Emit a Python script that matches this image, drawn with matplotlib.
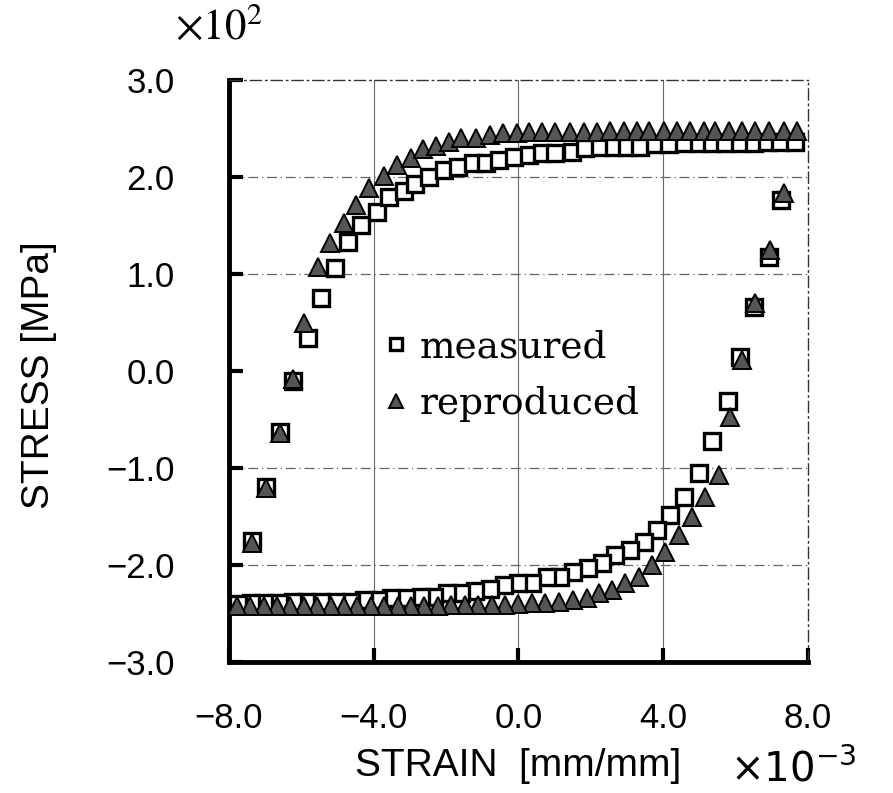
import matplotlib
matplotlib.use("Agg")
import matplotlib.pyplot as plt
from matplotlib.ticker import FixedLocator

# ---------------- data (strain x1e-3, stress x1e2) ----------------
meas_up_x = [-7.37, -6.98, -6.59, -6.23, -5.82, -5.46, -5.07, -4.71, -4.35, -3.91,
             -3.57, -3.16, -2.85, -2.47, -2.05, -1.66, -1.27, -0.89, -0.53, -0.11,
             0.28, 0.64, 1.00, 1.47, 1.83, 2.24, 2.63, 2.99, 3.35, 3.77,
             4.15, 4.57, 4.99, 5.35, 5.71, 6.12, 6.51, 6.87, 7.23, 7.65]
meas_up_y = [-1.75, -1.20, -0.63, -0.10, 0.34, 0.75, 1.06, 1.33, 1.51, 1.64,
             1.79, 1.86, 1.93, 2.00, 2.07, 2.10, 2.14, 2.14, 2.18, 2.21,
             2.23, 2.25, 2.25, 2.26, 2.30, 2.31, 2.31, 2.31, 2.31, 2.34,
             2.34, 2.35, 2.35, 2.35, 2.35, 2.35, 2.35, 2.36, 2.36, 2.36]

meas_lo_x = [7.26, 6.93, 6.51, 6.12, 5.79, 5.35, 4.99, 4.57, 4.18, 3.82,
             3.46, 3.07, 2.66, 2.30, 1.91, 1.52, 1.14, 0.78, 0.36, 0.00,
             -0.39, -0.80, -1.19, -1.58, -1.97, -2.33, -2.69, -3.10, -3.52, -3.88,
             -4.27, -4.63, -5.04, -5.46, -5.87, -6.23, -6.62, -7.04, -7.40, -7.76]
meas_lo_y = [1.76, 1.18, 0.66, 0.14, -0.31, -0.72, -1.05, -1.30, -1.48, -1.64,
             -1.76, -1.85, -1.90, -1.98, -2.03, -2.07, -2.12, -2.12, -2.19, -2.19,
             -2.21, -2.25, -2.27, -2.29, -2.29, -2.33, -2.33, -2.34, -2.34, -2.36,
             -2.36, -2.38, -2.38, -2.38, -2.38, -2.38, -2.39, -2.39, -2.39, -2.40]

repr_up_x = [-7.37, -6.98, -6.60, -6.24, -5.93, -5.54, -5.21, -4.82, -4.49, -4.13,
             -3.71, -3.35, -2.96, -2.63, -2.27, -1.91, -1.58, -1.16, -0.80, -0.42,
             -0.05, 0.28, 0.64, 1.00, 1.41, 1.80, 2.16, 2.52, 2.91, 3.27,
             3.60, 4.02, 4.38, 4.74, 5.12, 5.43, 5.82, 6.18, 6.54, 6.93,
             7.34, 7.70]
repr_up_y = [-1.77, -1.21, -0.64, -0.08, 0.49, 1.07, 1.32, 1.53, 1.71, 1.89,
             2.01, 2.12, 2.20, 2.29, 2.32, 2.36, 2.40, 2.40, 2.43, 2.45,
             2.45, 2.46, 2.46, 2.46, 2.46, 2.46, 2.46, 2.47, 2.47, 2.47,
             2.47, 2.47, 2.47, 2.47, 2.47, 2.47, 2.47, 2.47, 2.47, 2.47,
             2.47, 2.47]

repr_lo_x = [7.34, 6.95, 6.54, 6.18, 5.84, 5.54, 5.15, 4.79, 4.43, 4.04,
             3.68, 3.32, 2.94, 2.58, 2.22, 1.88, 1.50, 1.11, 0.72, 0.36,
             0.00, -0.36, -0.74, -1.11, -1.48, -1.86, -2.23, -2.60, -2.97, -3.34,
             -3.71, -4.08, -4.45, -4.82, -5.19, -5.56, -5.93, -6.30, -6.67, -7.04,
             -7.41, -7.78]
repr_lo_y = [1.84, 1.25, 0.70, 0.11, -0.47, -1.07, -1.30, -1.51, -1.69, -1.87,
             -2.00, -2.12, -2.19, -2.26, -2.29, -2.34, -2.36, -2.38, -2.39, -2.39,
             -2.40, -2.41, -2.41, -2.41, -2.41, -2.41, -2.42, -2.42, -2.42, -2.42,
             -2.42, -2.42, -2.42, -2.42, -2.42, -2.42, -2.42, -2.42, -2.42, -2.42,
             -2.42, -2.42]

x_ticks = [-8.0, -4.0, 0.0, 4.0, 8.0]
y_ticks = [-3.0, -2.0, -1.0, 0.0, 1.0, 2.0, 3.0]

plt.rcParams['font.family'] = ['Liberation Sans', 'DejaVu Sans']

fig = plt.figure(figsize=(8.93, 7.93), dpi=100)
ax = fig.add_axes([0.2564, 0.1652, 0.6484, 0.7339])

# grid
for gx in [-4.0, 0.0, 4.0]:
    ax.axvline(gx, color='#666666', lw=0.8, zorder=0)
for gy in [-2.0, -1.0, 1.0, 2.0]:
    ax.axhline(gy, color='#666666', lw=0.9, ls=(0, (8, 3, 1, 3)), zorder=0)

sq = dict(marker='s', ls='none', ms=11, mfc='white', mec='black', mew=2.4, zorder=3)
tri = dict(marker='^', ls='none', ms=12.5, mfc='#555555', mec='black', mew=1.4, zorder=4)

h1, = ax.plot(meas_up_x, meas_up_y, label='measured', **sq)
ax.plot(meas_lo_x, meas_lo_y, **sq)
h2, = ax.plot(repr_up_x, repr_up_y, label='reproduced', **tri)
ax.plot(repr_lo_x, repr_lo_y, **tri)

ax.set_xlim(-8, 8)
ax.set_ylim(-3, 3)
ax.xaxis.set_major_locator(FixedLocator(x_ticks))
ax.yaxis.set_major_locator(FixedLocator(y_ticks))
ax.set_xticklabels([f"{v:.1f}".replace('-', '\u2212') for v in x_ticks])
ax.set_yticklabels([f"{v:.1f}".replace('-', '\u2212') for v in y_ticks])
ax.tick_params(axis='both', direction='in', length=10, width=3, labelsize=25)
ax.tick_params(axis='x', pad=29)
ax.tick_params(axis='y', pad=39)

for s in ['left', 'bottom']:
    ax.spines[s].set_linewidth(3.5)
for s in ['top', 'right']:
    ax.spines[s].set_linewidth(1.0)
    ax.spines[s].set_linestyle((0, (8, 3, 1, 3)))
    ax.spines[s].set_color('#333333')

ax.set_xlabel('STRAIN  [mm/mm]', fontsize=28)
ax.set_ylabel('STRESS [MPa]', fontsize=28)
ax.xaxis.set_label_coords(0.5, -0.148)
ax.yaxis.set_label_coords(-0.297, 0.493)

fig.text(0.196, 0.99, r'$\times10^{2}$', fontsize=31, math_fontfamily='stix',
         ha='left', va='top')
fig.text(0.818, 0.005, r'$\times10^{-3}$', fontsize=29, math_fontfamily='dejavusans',
         ha='left', va='bottom')

ax.legend(handles=[h1, h2], loc='upper left', bbox_to_anchor=(0.21, 0.63),
          frameon=False, prop={'family': 'DejaVu Serif', 'size': 27},
          handlelength=0.6, handletextpad=0.35, labelspacing=0.55, markerscale=0.8)

fig.savefig('out.png', dpi=100)
